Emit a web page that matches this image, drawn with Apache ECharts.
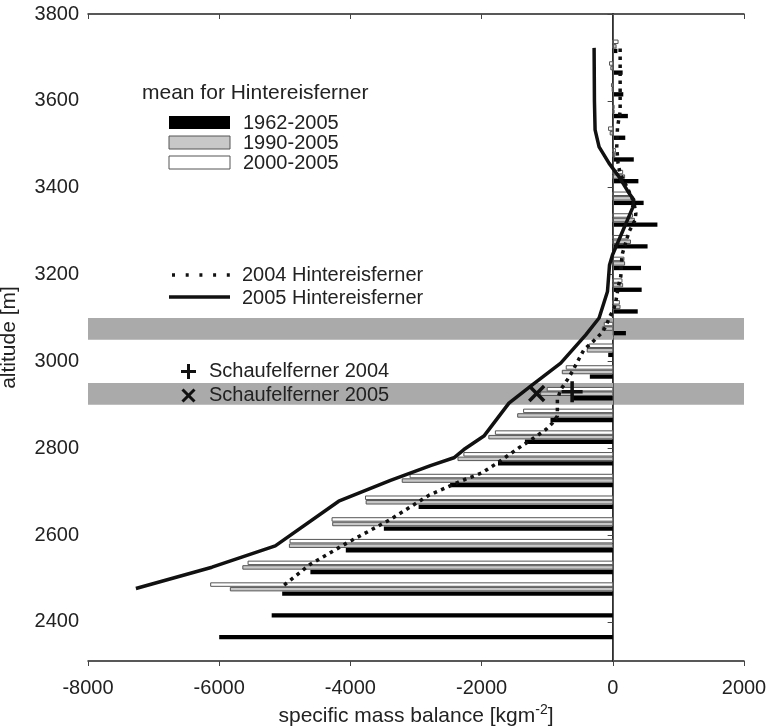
<!DOCTYPE html>
<html>
<head>
<meta charset="utf-8">
<script src="https://cdn.jsdelivr.net/npm/echarts@6/dist/echarts.min.js"></script>
<style>
  html, body { margin: 0; padding: 0; background: #fff; }
  #chart { width: 766px; height: 726px; }
</style>
</head>
<body>
<div id="chart"></div>
<script>
// altitude bands (lower edge, m)
const bands = [2350, 2400, 2450, 2500, 2550, 2600, 2650, 2700, 2750, 2800, 2850, 2900, 2950, 3000,
  3050, 3100, 3150, 3200, 3250, 3300, 3350, 3400, 3450, 3500, 3550, 3600, 3650, 3700];
// mean specific mass balance per band, kg m-2
const mean1962 = [-6000, -5200, -5040, -4610, -4070, -3490, -2960, -2480, -1750, -1340, -950, -620, -350, -70,
  200, 380, 440, 430, 530, 680, 470, 390, 320, 190, 230, 160, 150, 70];
const mean1990 = [null, null, -5830, -5640, -4930, -4270, -3760, -3210, -2360, -1890, -1450, -1100, -770, -390,
  -160, 110, 150, 180, 270, 330, 280, 180, 30, -40, 20, -10, -30, 50];
const mean2000 = [null, null, -6130, -5560, -4920, -4280, -3770, -3090, -2270, -1790, -1360, -1000, -710, -360,
  -130, 100, 140, 170, 230, 300, 250, 150, 40, -65, 20, -20, -50, 80];

// 2004 / 2005 profiles: [balance, altitude]
const hef2004 = [[-5010, 2485], [-4610, 2533], [-4050, 2582], [-3390, 2636], [-2800, 2692], [-2320, 2724],
  [-2000, 2743], [-1760, 2766], [-1430, 2801], [-1200, 2824], [-1020, 2843], [-920, 2858], [-845, 2874],
  [-845, 2912], [-794, 2935], [-692, 2958], [-616, 2977], [-550, 2996], [-440, 3027], [-300, 3046],
  [-180, 3064], [-107, 3080], [-56, 3100], [20, 3123], [46, 3138], [72, 3161], [96, 3180], [122, 3196],
  [137, 3238], [148, 3249], [224, 3287], [249, 3299], [341, 3326], [351, 3341], [320, 3368], [214, 3402],
  [112, 3433], [80, 3456], [60, 3494], [72, 3540], [112, 3575], [112, 3625], [112, 3675], [112, 3722]];
const hef2005 = [[-7270, 2477], [-6110, 2526], [-5145, 2575], [-4178, 2678], [-3389, 2726], [-2779, 2760],
  [-2422, 2778], [-2270, 2797], [-1965, 2828], [-1583, 2904], [-1252, 2943], [-794, 2996], [-412, 3061],
  [-209, 3100], [-81, 3161], [-50, 3222], [-5, 3245], [148, 3299], [300, 3353], [320, 3372], [249, 3387],
  [96, 3425], [-56, 3456], [-209, 3494], [-270, 3533], [-280, 3600], [-285, 3722]];

const schaufel2004 = [[-620, 2930]];
const schaufel2005 = [[-1160, 2926]];

// shaded altitude ranges
const shadeRanges = [[2900, 2950], [3050, 3100]];

const yTicks = [2400, 2600, 2800, 3000, 3200, 3400, 3600, 3800];

const FONT = 'Liberation Sans, Arial, sans-serif';
const plusPath = 'path://M4.15,0H5.85V4.15H10V5.85H5.85V10H4.15V5.85H0V4.15H4.15Z';

let chart;
let option;

function barSeries(name, values, offset, height, fill, stroke) {
  return {
    name: name,
    type: 'custom',
    z: 3,
    data: bands.map((b, i) => [values[i], b]).filter(d => d[0] !== null),
    renderItem: function (params, api) {
      const v = api.value(0);
      const c = api.value(1) + offset;
      const p0 = api.coord([0, c + height / 2]);
      const p1 = api.coord([v, c - height / 2]);
      return {
        type: 'rect',
        shape: {
          x: Math.min(p0[0], p1[0]),
          y: p0[1],
          width: Math.abs(p1[0] - p0[0]),
          height: p1[1] - p0[1]
        },
        style: { fill: fill, stroke: stroke, lineWidth: stroke ? 1 : 0 }
      };
    }
  };
}

function legendText(text, x, y, size) {
  return {
    type: 'text', x: x, y: y, z: 100,
    style: { text: text, font: (size || 20) + 'px ' + FONT, fill: '#222', verticalAlign: 'middle' }
  };
}
function legendLine(x1, y1, x2, y2, w, dash) {
  return {
    type: 'line', z: 100,
    shape: { x1: x1, y1: y1, x2: x2, y2: y2 },
    style: { stroke: '#111', lineWidth: w, lineDash: dash || null }
  };
}

const plain = v => String(v);

option = {
  animation: false,
  backgroundColor: '#fff',
  grid: { left: 88, right: 22, top: 14, bottom: 65, containLabel: false, outerBoundsMode: 'none' },
  xAxis: [{
    type: 'value', min: -8000, max: 2000, interval: 2000,
    name: '{a|specific mass balance [kgm}{s|-2}{a|]}',
    nameLocation: 'middle', nameGap: 42,
    nameTextStyle: {
      rich: {
        a: { fontSize: 21, fontFamily: FONT, color: '#222' },
        s: { fontSize: 14, fontFamily: FONT, color: '#222', padding: [0, 0, 12, 0] }
      }
    },
    axisLine: { lineStyle: { color: '#222', width: 1.5 } },
    axisTick: { length: 5, lineStyle: { color: '#444' } },
    axisLabel: { fontSize: 20, fontFamily: FONT, color: '#222', margin: 17, formatter: plain },
    splitLine: { show: false }
  }, {
    type: 'value', position: 'top', min: -8000, max: 2000, interval: 2000,
    axisLine: { show: true, lineStyle: { color: '#222', width: 1.5 } },
    axisTick: { inside: true, length: 5, lineStyle: { color: '#444' } },
    axisLabel: { show: false },
    splitLine: { show: false }
  }],
  yAxis: [{
    type: 'value', min: 2310, max: 3800,
    name: 'altitude [m]', nameLocation: 'middle', nameGap: 68,
    nameTextStyle: { fontSize: 21, fontFamily: FONT, color: '#222' },
    axisLine: { show: true, lineStyle: { color: '#222', width: 1.5 } },
    axisTick: { show: true, length: 5, customValues: yTicks, lineStyle: { color: '#444' } },
    axisLabel: { fontSize: 20, fontFamily: FONT, color: '#222', margin: 9, customValues: yTicks, formatter: plain },
    splitLine: { show: false }
  }, {
    type: 'value', position: 'right', min: 2310, max: 3800,
    axisLine: { show: true, lineStyle: { color: '#222', width: 1.5 } },
    axisTick: { show: true, inside: true, length: 5, customValues: yTicks, lineStyle: { color: '#444' } },
    axisLabel: { show: false },
    splitLine: { show: false }
  }],
  series: [
    {
      name: 'shade',
      type: 'line',
      z: 1,
      data: [],
      markArea: {
        silent: true,
        itemStyle: { color: '#aaaaaa', opacity: 1 },
        data: shadeRanges.map(r => [{ yAxis: r[0] }, { yAxis: r[1] }])
      },
      markLine: {
        silent: true,
        symbol: 'none',
        label: { show: false },
        lineStyle: { color: '#555', width: 1, type: 'solid' },
        data: [{ xAxis: 0 }]
      }
    },
    barSeries('1962-2005', mean1962, 15, 10, '#000', null),
    barSeries('1990-2005', mean1990, 25.5, 8, '#c8c8c8', '#555'),
    barSeries('2000-2005', mean2000, 36, 8, '#fff', '#555'),
    {
      name: '2004 Hintereisferner',
      type: 'line', z: 5,
      showSymbol: false,
      data: hef2004,
      lineStyle: { color: '#111', width: 3.5, type: [3.5, 4.5], cap: 'butt' }
    },
    {
      name: '2005 Hintereisferner',
      type: 'line', z: 5,
      showSymbol: false,
      data: hef2005,
      lineStyle: { color: '#111', width: 3.5 }
    },
    {
      name: 'Schaufelferner 2004',
      type: 'scatter', z: 6,
      data: schaufel2004,
      symbol: plusPath, symbolSize: 21,
      itemStyle: { color: '#111', opacity: 1 }
    },
    {
      name: 'Schaufelferner 2005',
      type: 'scatter', z: 6,
      data: schaufel2005,
      symbol: plusPath, symbolSize: 21, symbolRotate: 45,
      itemStyle: { color: '#111', opacity: 1 }
    }
  ],
  graphic: [
    legendText('mean for Hintereisferner', 142, 93, 21),
    { type: 'rect', z: 100, shape: { x: 169, y: 116, width: 61, height: 13 }, style: { fill: '#000' } },
    { type: 'rect', z: 100, shape: { x: 169, y: 136, width: 61, height: 13 }, style: { fill: '#c8c8c8', stroke: '#555', lineWidth: 1 } },
    { type: 'rect', z: 100, shape: { x: 169, y: 156, width: 61, height: 13 }, style: { fill: '#fff', stroke: '#555', lineWidth: 1 } },
    legendText('1962-2005', 243, 123),
    legendText('1990-2005', 243, 143),
    legendText('2000-2005', 243, 163),
    legendLine(172, 275, 231, 275, 3.5, [3, 10.7]),
    legendLine(169, 297, 230, 297, 3.5),
    legendText('2004 Hintereisferner', 242, 275),
    legendText('2005 Hintereisferner', 242, 298),
    legendLine(181, 371.5, 196, 371.5, 3),
    legendLine(188.5, 364, 188.5, 379, 3),
    legendLine(182.5, 389.5, 194.5, 401.5, 3),
    legendLine(194.5, 389.5, 182.5, 401.5, 3),
    legendText('Schaufelferner 2004', 209, 371),
    legendText('Schaufelferner 2005', 209, 395)
  ]
};

chart = echarts.init(document.getElementById('chart'));
chart.setOption(option);
</script>
</body>
</html>
